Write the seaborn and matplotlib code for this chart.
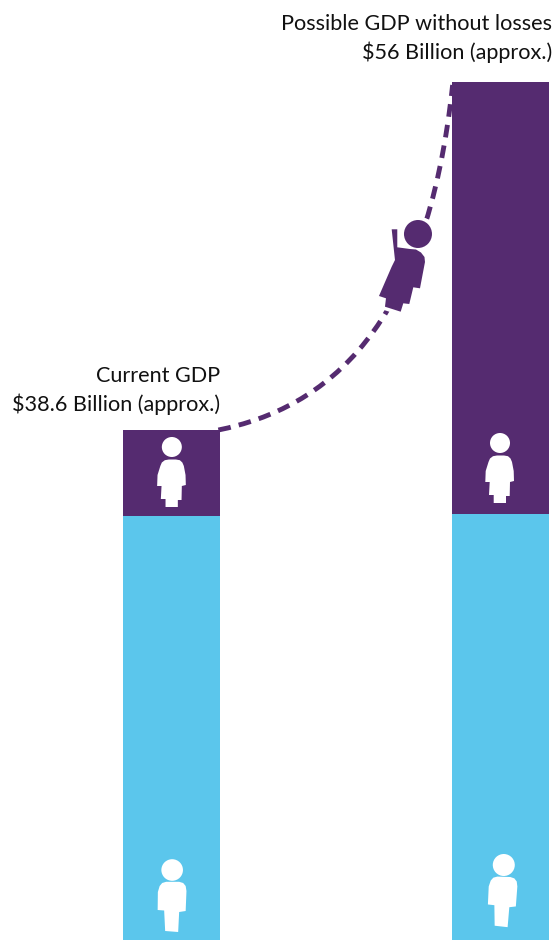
import matplotlib
matplotlib.use("Agg")
import matplotlib.pyplot as plt
import seaborn as sns
import pandas as pd
from matplotlib.patches import Circle, PathPatch, Polygon
from matplotlib.path import Path
from matplotlib.transforms import Affine2D

scenarios = ["Current GDP", "Possible GDP without losses"]
totals = [38.6, 56.0]
male_share = [34.3, 34.4]
captions = ["Current GDP\n$38.6 Billion (approx.)",
            "Possible GDP without losses\n$56 Billion (approx.)"]

PURPLE = "#552B70"
BLUE = "#5BC6EC"
BAR_WIDTH = 0.295

# Silhouettes in pixels, relative to the centre of the head (y grows downward)
WOMAN = [(-11.5, 19), (-10, 15.5), (-7, 13.2), (-3, 12.5), (4, 12.5), (8, 13.2), (10.5, 15.5),
         (12, 19), (13.7, 28), (14, 38), (10, 39), (9.7, 53), (6, 53), (6, 60), (-6.3, 60),
         (-6.3, 52), (-11, 52), (-10.3, 39), (-14.7, 39), (-14.3, 28)]
MAN = [(-12.5, 16), (-10, 13), (-6, 11.8), (7, 11.8), (11, 13), (13.5, 16), (14.3, 21), (13.5, 41),
       (7, 42), (6, 62), (-7, 61), (-8, 40.5), (-14.5, 40), (-14.3, 22)]
REACHING_WOMAN = [(-26.3, -4.7), (-20.7, -4.7), (-20.7, 13.3), (-8, 15), (-2, 15.5), (3, 18.5),
                  (6.5, 23), (7, 28), (2, 54.3), (-4.7, 53.3), (-8.7, 70), (-14.7, 69.3),
                  (-17.3, 77.7), (-33, 72.7), (-32, 64.3), (-39, 62), (-26.3, 32.7), (-23, 26)]

sns.set_theme(style="white")
plt.rcParams["font.family"] = ["Lato", "DejaVu Sans"]

fig = plt.figure(figsize=(5.58, 9.40), dpi=100)
ax = fig.add_axes([0, 0, 1, 1])

frame = pd.DataFrame({"scenario": scenarios, "total": totals, "male": male_share})
sns.barplot(data=frame, x="scenario", y="total", color=PURPLE, saturation=1, linewidth=0,
            width=BAR_WIDTH, order=scenarios, ax=ax, zorder=2)
sns.barplot(data=frame, x="scenario", y="male", color=BLUE, saturation=1, linewidth=0,
            width=BAR_WIDTH, order=scenarios, ax=ax, zorder=3)

ax.set_xlim(-0.5213, 1.1748)
ax.set_ylim(13.1, 60.1)
ax.axis("off")
fig.canvas.draw()


def icon_transform(x, y, angle=0.0):
    """Place a pixel-unit silhouette at a data position."""
    px, py = ax.transData.transform((x, y))
    return Affine2D().scale(1, -1).rotate_deg(angle).translate(px, py)


def draw_person(outline, x, y, radius, color, angle=0.0, halo=0.0):
    tr = icon_transform(x, y, angle)
    if halo:
        ax.add_patch(Polygon(outline, closed=True, transform=tr, facecolor="white",
                             edgecolor="white", lw=halo, zorder=5))
        ax.add_patch(Circle((0, 0), radius, transform=tr, facecolor="white",
                            edgecolor="white", lw=halo, zorder=5))
    ax.add_patch(Polygon(outline, closed=True, transform=tr, facecolor=color,
                         edgecolor="none", zorder=6))
    ax.add_patch(Circle((0, 0), radius, transform=tr, facecolor=color,
                        edgecolor="none", zorder=6))


# Dashed growth curve from the top of the first bar to the top of the second
left_edge = BAR_WIDTH / 2
right_edge = 1 - BAR_WIDTH / 2
curve = Path([(left_edge - 0.005, totals[0]),
              (0.47, 39.7),
              (0.775, 43.6),
              (right_edge + 0.002, totals[1] - 0.15)],
             [Path.MOVETO, Path.CURVE4, Path.CURVE4, Path.CURVE4])
ax.add_patch(PathPatch(curve, facecolor="none", edgecolor=PURPLE, lw=3.5,
                       linestyle=(0, (2.6, 1.7)), capstyle="butt", zorder=4))

# Women in the purple segments, men in the blue ones
draw_person(WOMAN, 0.001, 37.75, 10, "white")
draw_person(WOMAN, 0.9985, 37.95, 10, "white")
draw_person(MAN, 0.002, 16.6, 10.8, "white")
draw_person(MAN, 1.01, 16.85, 11, "white", angle=-2)

# The woman reaching upward along the curve
draw_person(REACHING_WOMAN, 0.7492, 48.4, 14, PURPLE, halo=5)

ax.text(left_edge, 38.6 + 0.75, captions[0], ha="right", va="bottom", fontsize=15.6,
        color="#111111", linespacing=1.43, zorder=7)
ax.text(1.1565, 56 + 0.95, captions[1], ha="right", va="bottom", fontsize=15.6,
        color="#111111", linespacing=1.43, zorder=7)

fig.savefig("out.png", dpi=100)
